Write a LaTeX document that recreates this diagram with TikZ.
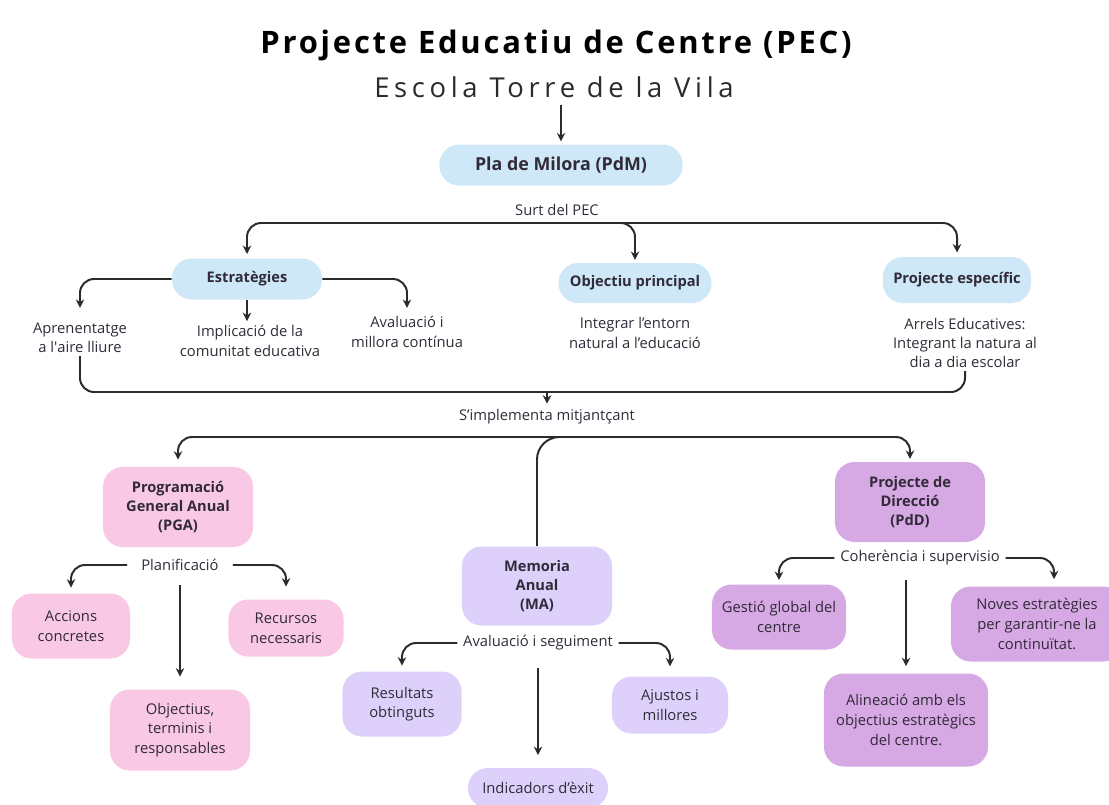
\documentclass[tikz,border=0pt]{standalone}
\usepackage{fontspec}
\setmainfont{Open Sans}
\newfontfamily\titolfont[LetterSpace=9]{Open Sans}
\newfontfamily\subfont[LetterSpace=17]{Open Sans}
\usetikzlibrary{arrows.meta}
\definecolor{blau}{HTML}{CFE8F8}
\definecolor{rosa}{HTML}{F9C8E5}
\definecolor{lila}{HTML}{DDD1FB}
\definecolor{morat}{HTML}{D6A8E4}
\definecolor{fosc}{HTML}{2B2B2B}
\definecolor{lletra}{HTML}{312A38}

\begin{document}
\begin{tikzpicture}[x=0.025cm,y=-0.025cm,
  caixa/.style={rounded corners=14pt,align=center,text=lletra,inner sep=2pt,font=\fontsize{10.5}{14}\selectfont},
  negreta/.style={font=\bfseries\fontsize{10.4}{13.8}\selectfont},
  mida/.style 2 args={minimum width=#1,minimum height=#2},
  etiq/.style={align=center,text=lletra,inner sep=2pt,font=\fontsize{10.5}{13.8}\selectfont},
  linia/.style={draw=fosc,line width=1.4pt,rounded corners=10pt},
  fletxa/.style={linia,-{Stealth[length=6pt,width=6pt]},shorten >=2pt},
  doble/.style={linia,{Stealth[length=6pt,width=6pt]}-{Stealth[length=6pt,width=6pt]},shorten >=2pt,shorten <=2pt}]

\useasboundingbox (0,0) rectangle (1109,804);

\node[font=\titolfont\bfseries\fontsize{22}{25}\selectfont] (pec) at (556,45) {Projecte Educatiu de Centre (PEC)};
\node[font=\subfont\fontsize{19.5}{22}\selectfont,text=fosc] (escola) at (554,87) {Escola Torre de la Vila};

\node[caixa,fill=blau,font=\bfseries\fontsize{12.7}{15}\selectfont,mida={6.075cm}{1.025cm}] (pdm) at (561,165) {Pla de Milora (PdM)};
\draw[fletxa,line width=1pt,shorten <=2pt] (pdm.north |- escola.south) -- (pdm.north);

\node[etiq] (surt) at (557,210) {Surt del PEC};
\coordinate (barra1) at (557,223);

\node[caixa,fill=blau,negreta,mida={3.75cm}{1.025cm}] (estr) at (247,279) {Estratègies};
\node[caixa,fill=blau,negreta,mida={3.825cm}{1cm}] (objp) at (635,283) {Objectiu principal};
\node[caixa,fill=blau,negreta,mida={3.7cm}{1.15cm}] (proj) at (957,280) {Projecte específic};

\draw[doble,shorten <=3pt,shorten >=3pt] (estr.north) |- (barra1) -| (proj.north);
\draw[fletxa,shorten >=2pt] ([xshift=-0.35cm]objp.north |- barra1) -| (objp.north);

\node[etiq] (apr) at (80,338) {Aprenentatge\\a l\textquotesingle aire lliure};
\node[etiq] (impl) at (250,341) {Implicació de la\\comunitat educativa};
\node[etiq] (aval) at (407,332) {Avaluació i\\millora contínua};
\node[etiq] (entorn) at (635,333) {Integrar l’entorn\\natural a l’educació};
\node[etiq] (arrels) at (965,343) {Arrels Educatives:\\Integrant la natura al\\dia a dia escolar};

\draw[fletxa,shorten >=8.5pt] (estr.west) -| (apr.north);
\draw[fletxa,shorten >=1pt] (estr.south) -- (estr.south |- impl.north);
\draw[fletxa,shorten >=4pt] (estr.east) -| (aval.north);

\node[etiq] (simpl) at (547,417) {S’implementa mitjantçant};
\coordinate (uneix) at (547,392);
\coordinate (barra2) at (547,437);

\draw[linia] (apr.south) |- (uneix);
\draw[linia] (arrels.south) |- (uneix);
\draw[fletxa,rounded corners=0pt] (uneix) -- (simpl.north);

% PGA
\node[caixa,fill=rosa,negreta,mida={3.75cm}{2cm}] (pga) at (178,507) {Programació\\General Anual\\(PGA)};
% MA
\node[caixa,fill=lila,negreta,mida={3.75cm}{1.975cm}] (ma) at (537,586) {Memoria\\Anual\\(MA)};
% PdD
\node[caixa,fill=morat,negreta,mida={3.75cm}{2cm}] (pdd) at (910,502) {Projecte de\\Direcció\\(PdD)};

\draw[doble,shorten <=5pt] (pga.north) |- (barra2) -| (pdd.north);
\draw[linia,rounded corners=16pt] ([xshift=0.575cm]ma.north |- barra2) -| (ma.north);

\node[etiq,inner xsep=10pt] (plan) at (180,565) {Planificació};
\node[caixa,fill=rosa,mida={2.95cm}{1.625cm}] (acc) at (71,626) {Accions\\concretes};
\node[caixa,fill=rosa,mida={2.875cm}{1.425cm}] (rec) at (286,628) {Recursos\\necessaris};
\node[caixa,fill=rosa,mida={3.5cm}{2.025cm}] (objt) at (180,730) {Objectius,\\terminis i\\responsables};

\draw[fletxa,shorten >=4pt] (plan.west) -| (acc.north);
\draw[fletxa,shorten >=9pt] (plan.east) -| (rec.north);
\draw[fletxa,shorten <=8pt,shorten >=9pt] (plan.south) -- (objt.north);

\node[etiq,inner xsep=4pt] (seg) at (538,643) {Avaluació i seguiment};
\node[caixa,fill=lila,mida={2.975cm}{1.625cm}] (res) at (402,704) {Resultats\\obtinguts};
\node[caixa,fill=lila,mida={2.9cm}{1.425cm}] (ajust) at (670,705) {Ajustos i\\millores};
\node[caixa,fill=lila,mida={3.5cm}{1cm}] (ind) at (538,788) {Indicadors d’èxit};

\draw[fletxa,shorten >=4pt] (seg.west) -| (res.north);
\draw[fletxa,shorten >=7pt] (seg.east) -| (ajust.north);
\draw[fletxa,shorten <=10pt,shorten >=9pt] (seg.south) -- (ind.north);

\node[etiq,inner xsep=4pt] (coh) at (920,558) {Coherència i supervisio};
\node[caixa,fill=morat,mida={3.35cm}{1.625cm}] (gest) at (779,617) {Gestió global del\\centre};
\node[caixa,fill=morat,mida={4.3cm}{1.875cm}] (noves) at (1037,624) {Noves estratègies\\per garantir-ne la\\continuïtat.};
\node[caixa,fill=morat,mida={4.1cm}{2.325cm}] (alin) at (906,720) {Alineació amb els\\objectius estratègics\\del centre.};

\draw[fletxa,shorten >=3pt] (coh.west) -| (gest.north);
\draw[fletxa,shorten >=5pt] (coh.east) -| ([xshift=0.425cm]noves.north);
\draw[fletxa,shorten <=8pt,shorten >=5pt] (alin.north |- coh.south) -- (alin.north);

\end{tikzpicture}
\end{document}
